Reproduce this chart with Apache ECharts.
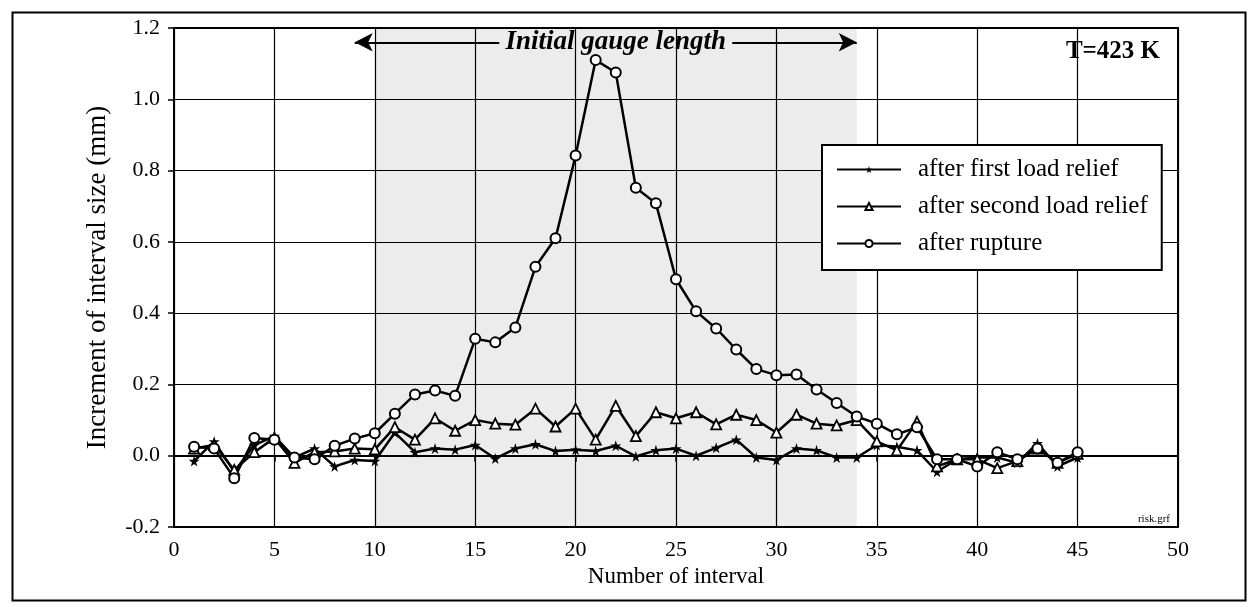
<!DOCTYPE html>
<html>
<head>
<meta charset="utf-8">
<script src="https://cdn.jsdelivr.net/npm/echarts@6/dist/echarts.min.js"></script>
<style>
  html, body { margin: 0; padding: 0; background: #fff; }
  #chart { width: 1252px; height: 607px; }
</style>
</head>
<body>
<div id="chart"></div>
<script>
// Interval numbers along the specimen
const intervals = [1,2,3,4,5,6,7,8,9,10,11,12,13,14,15,16,17,18,19,20,21,22,23,24,25,26,27,28,29,30,31,32,33,34,35,36,37,38,39,40,41,42,43,44,45];

// Increment of interval size (mm)
const firstRelief = [-0.015,0.04,-0.045,0.03,0.055,-0.005,0.02,-0.03,-0.012,-0.015,0.065,0.01,0.02,0.017,0.03,-0.008,0.02,0.032,0.013,0.017,0.013,0.028,-0.002,0.015,0.02,0.0,0.022,0.045,-0.005,-0.012,0.02,0.015,-0.005,-0.005,0.03,0.025,0.015,-0.045,-0.01,-0.005,-0.005,-0.02,0.035,-0.03,-0.005];
const secondRelief = [0.02,0.03,-0.04,0.01,0.05,-0.02,0.01,0.012,0.02,0.018,0.08,0.045,0.105,0.07,0.1,0.09,0.087,0.132,0.082,0.132,0.045,0.14,0.055,0.122,0.105,0.122,0.088,0.115,0.1,0.065,0.115,0.09,0.085,0.1,0.04,0.015,0.095,-0.03,-0.01,-0.01,-0.035,-0.015,0.02,-0.02,0.005];
const rupture = [0.025,0.02,-0.063,0.05,0.045,-0.005,-0.01,0.028,0.048,0.063,0.118,0.172,0.183,0.168,0.328,0.318,0.36,0.53,0.61,0.842,1.11,1.075,0.752,0.708,0.495,0.405,0.357,0.298,0.243,0.226,0.228,0.186,0.148,0.11,0.09,0.06,0.08,-0.01,-0.01,-0.03,0.01,-0.01,0.02,-0.02,0.01];

const seriesNames = ['after first load relief', 'after second load relief', 'after rupture'];

// Axis settings
const xTicks = { min: 0, max: 50, step: 5 };
const yTicks = { min: -0.2, max: 1.2, step: 0.2 };

// Initial gauge length span (interval numbers) and its arrow level
const gaugeSpan = [9, 34];
const gaugeShade = [10, 34];
const gaugeLevel = 1.16;
const gaugeText = 'Initial gauge length';
const gaugeTextSpan = [16.2, 27.8];

const serif = '"Liberation Serif", "DejaVu Serif", serif';
const starPath = 'path://M50,0 L61,35 L98,35 L68,57 L79,91 L50,70 L21,91 L32,57 L2,35 L39,35 Z';

const pairs = (ys) => intervals.map((n, i) => [n, ys[i]]);

const chart = echarts.init(document.getElementById('chart'));

const lineBase = {
  type: 'line',
  lineStyle: { color: '#000', width: 2.5 },
  emphasis: { disabled: true },
  animation: false,
  z: 3
};

const option = {
  backgroundColor: '#fff',
  animation: false,
  grid: { left: 174, top: 28, width: 1004, height: 499, show: true, borderColor: '#000', borderWidth: 2 },
  xAxis: {
    type: 'value', min: xTicks.min, max: xTicks.max, interval: xTicks.step,
    name: 'Number of interval', nameLocation: 'middle', nameGap: 36,
    nameTextStyle: { fontFamily: serif, fontSize: 23, color: '#000' },
    axisLine: { show: true, lineStyle: { color: '#000', width: 2 } },
    axisTick: { show: true, length: 6, lineStyle: { color: '#000', width: 1.5 } },
    axisLabel: { fontFamily: serif, fontSize: 22, color: '#000', margin: 12 },
    splitLine: { show: true, lineStyle: { color: '#000', width: 1.2 } }
  },
  yAxis: {
    type: 'value', min: yTicks.min, max: yTicks.max, interval: yTicks.step,
    name: 'Increment of interval size (mm)', nameLocation: 'middle', nameGap: 63,
    nameTextStyle: { fontFamily: serif, fontSize: 27, color: '#000' },
    axisLine: { show: true, lineStyle: { color: '#000', width: 2 } },
    axisTick: { show: true, length: 6, lineStyle: { color: '#000', width: 1.5 } },
    axisLabel: { fontFamily: serif, fontSize: 22, color: '#000', margin: 14,
      formatter: (v) => v.toFixed(1) },
    splitLine: { show: true, lineStyle: { color: '#000', width: 1.2 } }
  },
  legend: {
    orient: 'vertical', left: 822, top: 145,
    backgroundColor: '#fff', borderColor: '#000', borderWidth: 2,
    padding: [12, 14, 14, 14], itemGap: 12, itemWidth: 64, itemHeight: 9,
    textStyle: { fontFamily: serif, fontSize: 25, color: '#000', lineHeight: 25, padding: [0, 0, 0, 12] },
    data: seriesNames
  },
  series: [
    Object.assign({}, lineBase, {
      name: seriesNames[0], data: pairs(firstRelief),
      symbol: starPath, symbolSize: 11,
      itemStyle: { color: '#000' },
      markArea: {
        silent: true,
        itemStyle: { color: 'rgba(0,0,0,0.075)' },
        data: [[{ xAxis: gaugeShade[0] }, { xAxis: gaugeShade[1] }]]
      }
    }),
    Object.assign({}, lineBase, {
      name: seriesNames[1], data: pairs(secondRelief),
      symbol: 'triangle', symbolSize: 10,
      itemStyle: { color: '#fff', borderColor: '#000', borderWidth: 1.8 }
    }),
    Object.assign({}, lineBase, {
      name: seriesNames[2], data: pairs(rupture),
      symbol: 'circle', symbolSize: 10,
      itemStyle: { color: '#fff', borderColor: '#000', borderWidth: 2 },
      markLine: {
        silent: true, animation: false,
        lineStyle: { color: '#000', width: 2, type: 'solid' },
        label: { show: false },
        symbolSize: [14, 18],
        data: [
          [{ coord: [gaugeTextSpan[0], gaugeLevel], symbol: 'none' }, { coord: [gaugeSpan[0], gaugeLevel], symbol: 'arrow' }],
          [{ coord: [gaugeTextSpan[1], gaugeLevel], symbol: 'none' }, { coord: [gaugeSpan[1], gaugeLevel], symbol: 'arrow' }]
        ]
      }
    })
  ]
};

chart.setOption(option);

// Text annotations: gauge label, temperature and file name
const mid = chart.convertToPixel({ gridIndex: 0 }, [(gaugeTextSpan[0] + gaugeTextSpan[1]) / 2, gaugeLevel]);
chart.setOption({
  graphic: [
    { type: 'rect', left: 10, top: 10, shape: { width: 1233, height: 588 },
      style: { fill: 'none', stroke: '#000', lineWidth: 2 }, silent: true, z: 0 },
    { type: 'text', x: mid[0], y: mid[1], z: 10,
      style: { text: gaugeText, fontFamily: serif, fontSize: 27, fontWeight: 'bold', fontStyle: 'italic',
        fill: '#000', align: 'center', verticalAlign: 'middle' } },
    { type: 'text', x: 1160, y: 52, z: 10,
      style: { text: 'T=423 K', fontFamily: serif, fontSize: 25, fontWeight: 'bold',
        fill: '#000', align: 'right', verticalAlign: 'middle' } },
    { type: 'text', x: 1170, y: 519, z: 10,
      style: { text: 'risk.grf', fontFamily: serif, fontSize: 11,
        fill: '#000', align: 'right', verticalAlign: 'middle' } }
  ]
});
</script>
</body>
</html>
